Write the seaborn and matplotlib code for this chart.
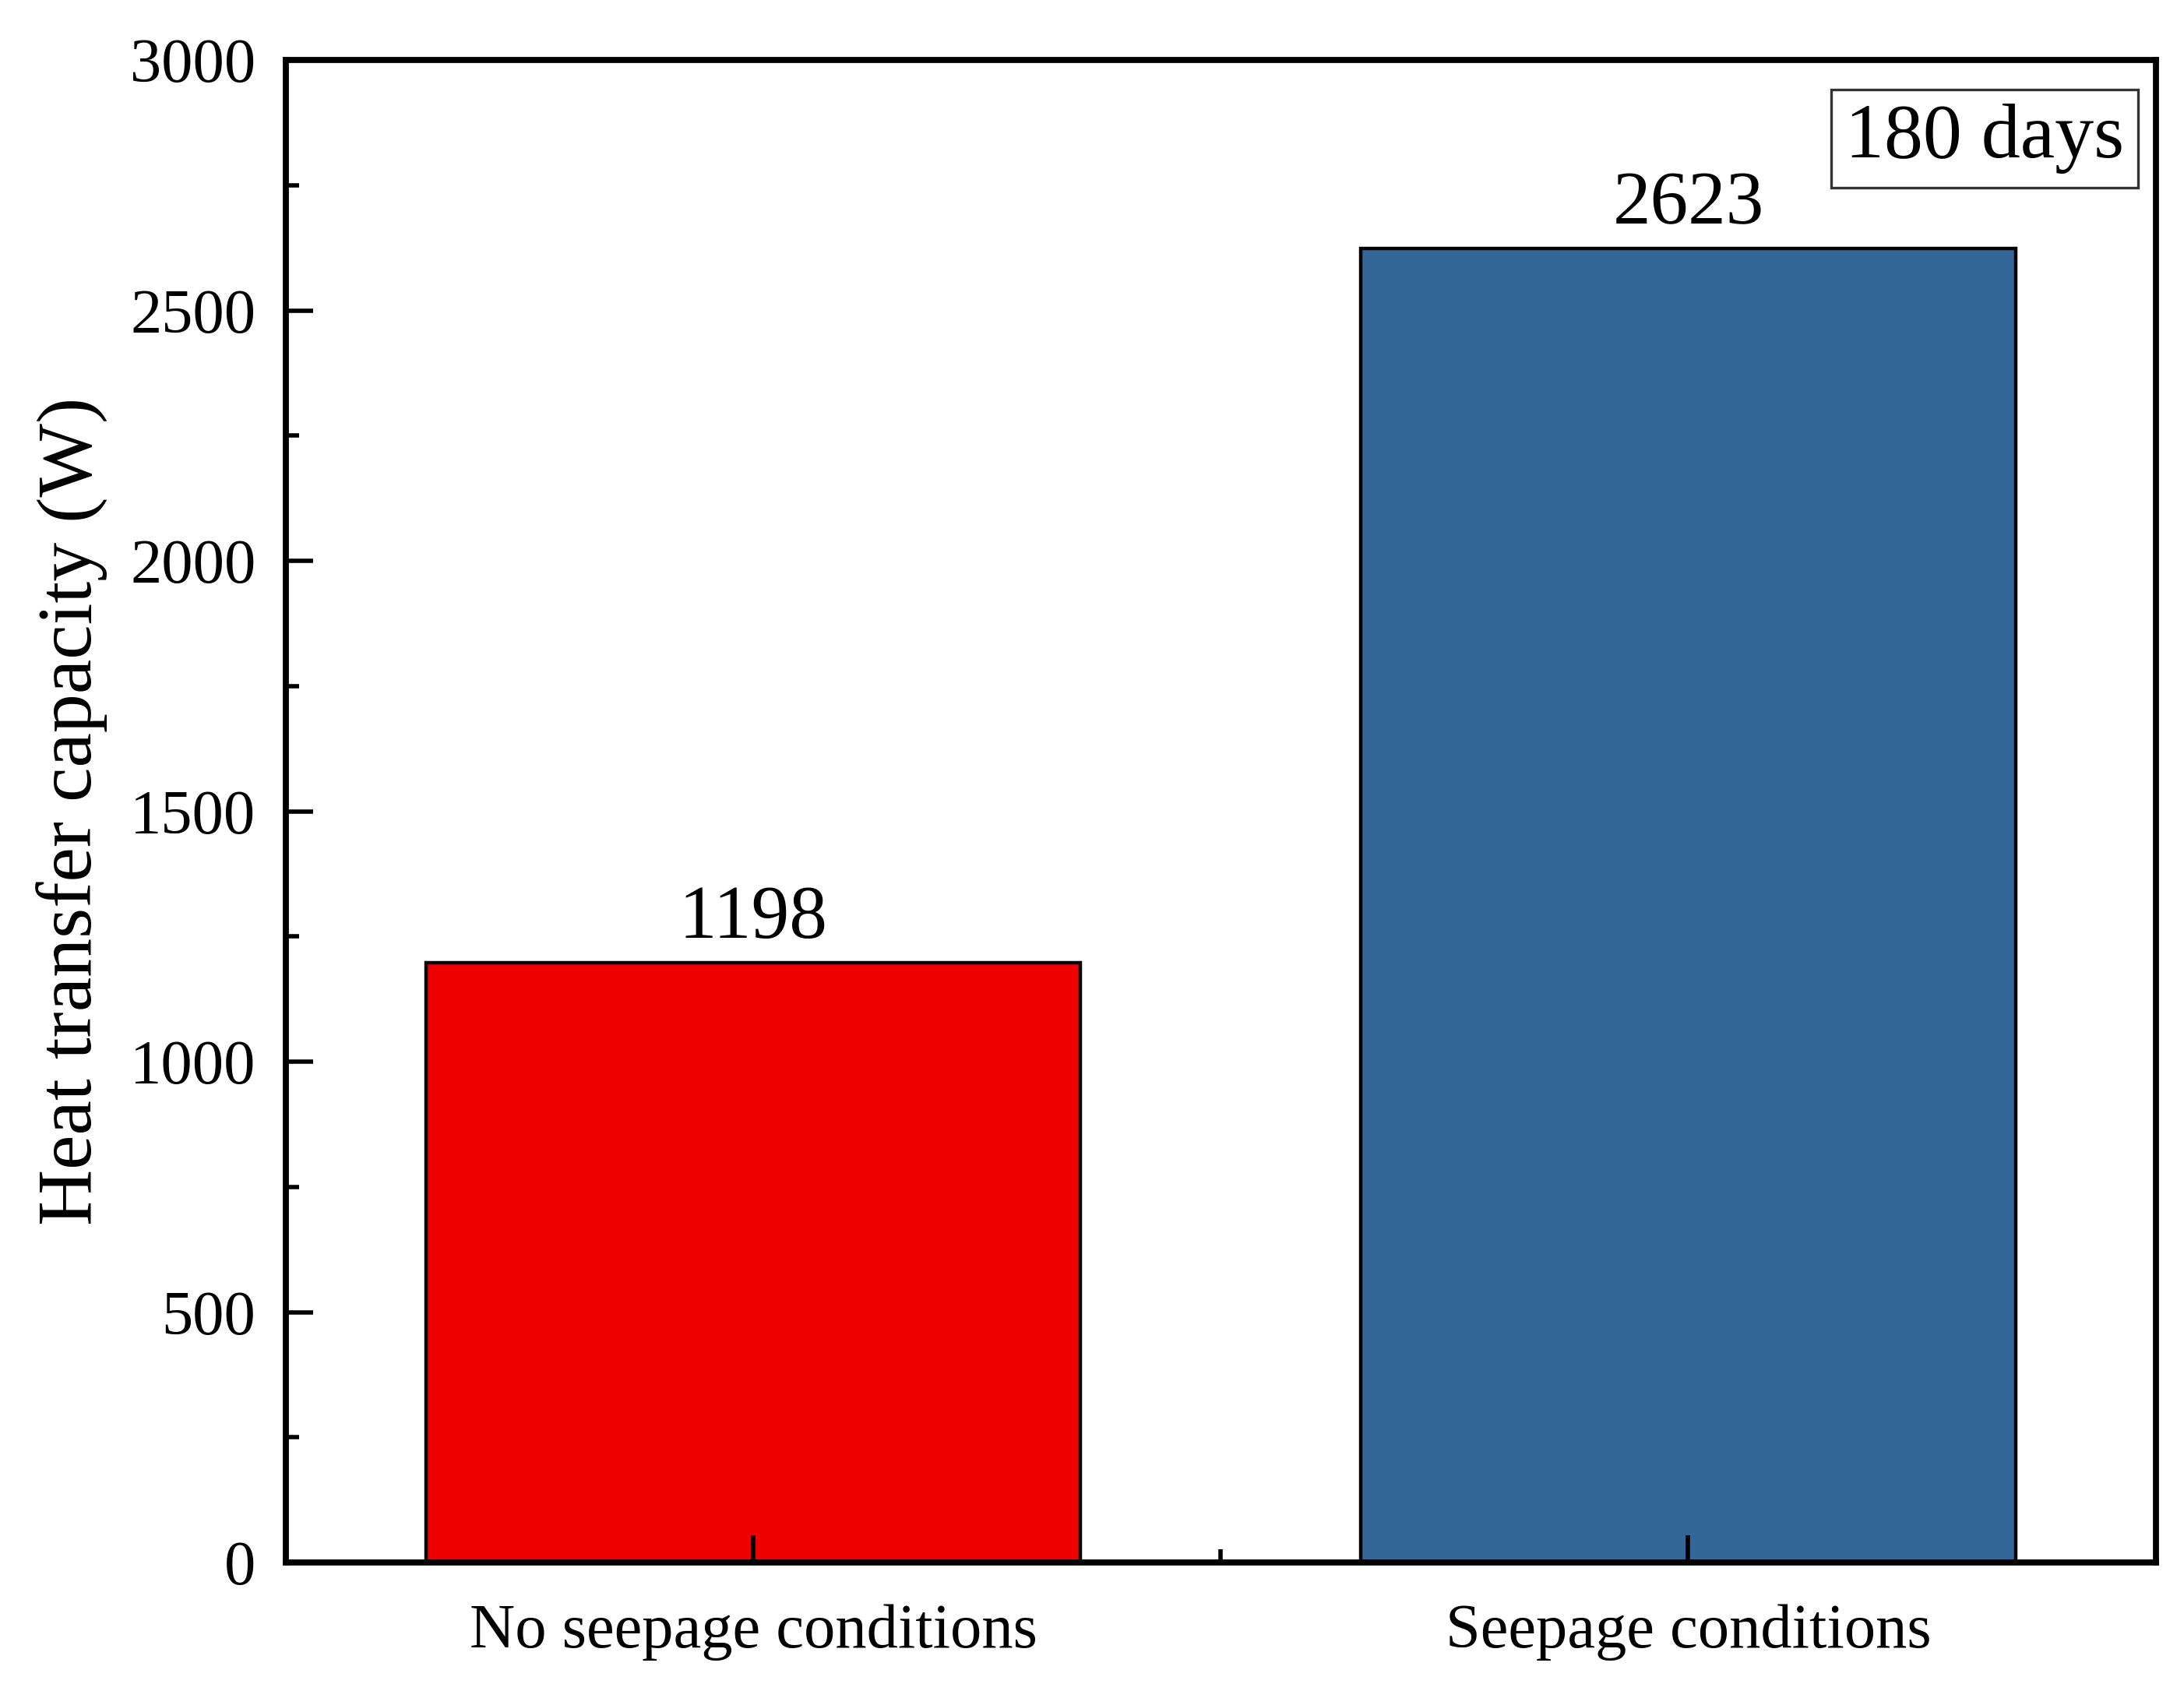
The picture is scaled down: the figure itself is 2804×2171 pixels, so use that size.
import matplotlib
matplotlib.use("Agg")
import matplotlib.pyplot as plt
import seaborn as sns
import pandas as pd
from matplotlib.ticker import MultipleLocator

categories = ["No seepage conditions", "Seepage conditions"]
values = [1198, 2623]
bar_colors = ["#EE0000", "#336699"]
y_ticks = [0, 500, 1000, 1500, 2000, 2500, 3000]
annotation = "180 days"

sns.set_style("white")
plt.rcParams["font.family"] = ["Liberation Serif", "DejaVu Serif"]
plt.rcParams["text.color"] = "black"
plt.rcParams["axes.labelcolor"] = "black"
plt.rcParams["xtick.color"] = "black"
plt.rcParams["ytick.color"] = "black"

df = pd.DataFrame({"cond": categories, "val": values})

fig = plt.figure(figsize=(14.02, 10.855), dpi=200)
ax = fig.add_axes([0.131, 0.076, 0.856, 0.8885])

sns.barplot(data=df, x="cond", y="val", hue="cond", palette=bar_colors,
            order=categories, hue_order=categories, width=0.7,
            edgecolor="black", linewidth=1.6, legend=False, ax=ax, saturation=1)

ax.set_axisbelow(False)
ax.set_xlim(-0.5, 1.5)
ax.set_ylim(0, 3000)
ax.set_yticks(y_ticks)
ax.yaxis.set_minor_locator(MultipleLocator(250))
ax.set_xticks([0, 1])
ax.set_xticks([0.5], minor=True)
ax.set_xticklabels(categories)

for s in ax.spines.values():
    s.set_visible(True)
    s.set_linewidth(2.8)
    s.set_color("black")
    s.set_zorder(5)

ax.tick_params(axis="both", which="major", direction="in", length=12.5, width=2.0,
               labelsize=29, colors="black")
ax.tick_params(axis="both", which="minor", direction="in", length=6, width=2.0)
ax.tick_params(axis="y", which="major", pad=14)
ax.tick_params(axis="x", which="major", pad=19)
ax.tick_params(top=False, right=False, which="both")
ax.tick_params(left=True, bottom=True, which="both")

ax.set_xlabel("")
ax.set_ylabel("Heat transfer capacity (W)", fontsize=36, color="black")
ax.yaxis.set_label_coords(-0.095, 0.5)

for i, v in enumerate(values):
    ax.annotate(f"{v}", xy=(i, v), xytext=(0, 4), textcoords="offset points",
                ha="center", va="bottom", fontsize=35, color="black")

ax.text(0.9832, 0.971, annotation, transform=ax.transAxes, ha="right", va="top",
        fontsize=36, color="black",
        bbox=dict(boxstyle="square,pad=0.18", facecolor="white",
                  edgecolor="#333333", linewidth=1.2))

fig.savefig("out.png", dpi=200, facecolor="white")
